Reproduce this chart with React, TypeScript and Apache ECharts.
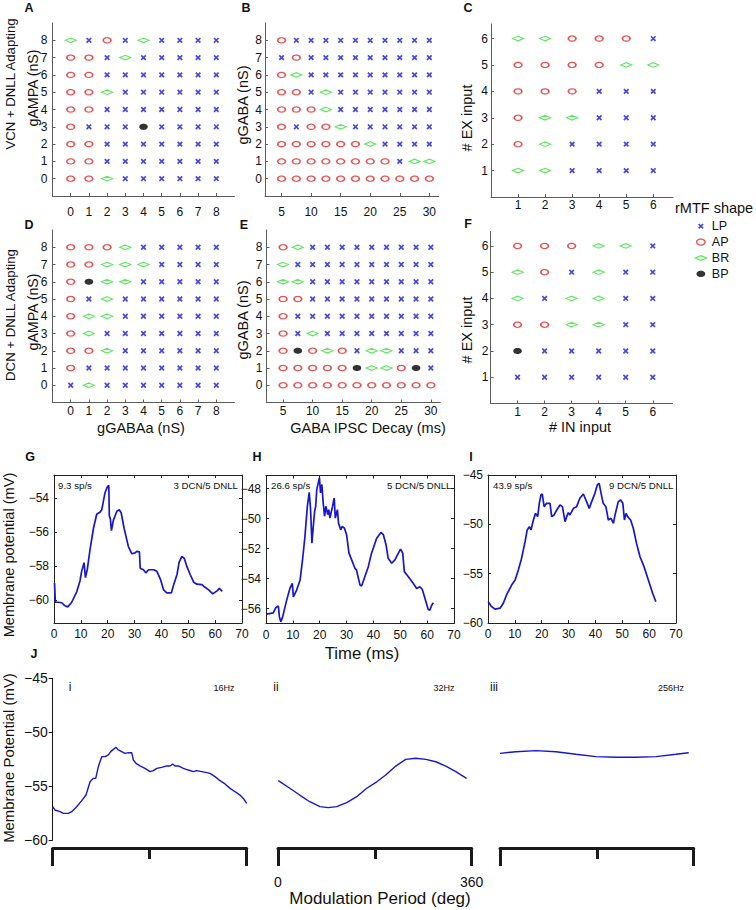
import React, { useEffect, useRef } from "react";
import * as echarts from "echarts";

const FONT = '"Liberation Sans", Arial, Helvetica, sans-serif';

// ---------- rMTF shape maps (rows listed from top y value down) ----------
// L = LP, A = AP, B = BR, P = BP
const gIntX = [0, 1, 2, 3, 4, 5, 6, 7, 8];
const gIntY = [8, 7, 6, 5, 4, 3, 2, 1, 0];
const decayX = [5, 7.5, 10, 12.5, 15, 17.5, 20, 22.5, 25, 27.5, 30];
const decayTicks = [5, 10, 15, 20, 25, 30];
const inputX = [1, 2, 3, 4, 5, 6];
const inputY = [6, 5, 4, 3, 2, 1];

const panelA = [
  "BLALBLLLL",
  "AALBLLLLL",
  "AALLLLLLL",
  "AABLLLLLL",
  "AALLLLLLL",
  "ALLLPLLLL",
  "AALLLLLLL",
  "AALLLLLLL",
  "AABLLLLLL",
];
const panelB = [
  "ALLLLLLLLLL",
  "LALLLLLLLLL",
  "ABLLLLLLLLL",
  "AALBLLLLLLL",
  "AAABLLLLLLL",
  "ALAABLLLLLL",
  "AAAAAABLLLL",
  "AAAAAAAALBB",
  "AAAAAAAAAAA",
];
const panelC = ["BBAAAL", "AAAABB", "AAALLL", "ABBLLL", "ABLLLL", "BBLLLL"];
const panelD = [
  "AAABLLLLL",
  "AABBBLLLL",
  "APBBLLLLL",
  "ALBLLLLLL",
  "ABBLLLLLL",
  "ABLLLLLLL",
  "AABLLLLLL",
  "ALLLLLLLL",
  "LBLLLLLLL",
];
const panelE = [
  "ABLLLLLLLLL",
  "BLLLLLLLLLL",
  "BBLLLLLLLLL",
  "AALLLLLLLLL",
  "ALLLLLLLLLL",
  "ALBLLLLLLLL",
  "APABALBBLLL",
  "AAAAAPBBAPL",
  "AAAAAAAAAAA",
];
const panelF = ["AAABBL", "BALBLL", "BLBBLL", "AABBLL", "PLLLLL", "LLLLLL"];

// ---------- membrane potential traces (time ms, mV) ----------
const timeTicks = [0, 10, 20, 30, 40, 50, 60, 70];
const traceG = [
  [0.2, -59.0], [0.5, -60.13], [1.6, -60.13], [2.9, -60.16], [4.1, -60.34], [5.1, -60.4],
  [6.6, -60.13], [8.5, -59.5], [9.7, -58.86], [10.3, -58.3], [11.2, -57.8], [11.7, -58.68],
  [12.4, -58.2], [13.4, -57.05], [14.7, -55.78], [15.9, -54.96], [17.2, -54.83], [17.8, -54.69],
  [19.0, -53.69], [19.9, -53.33], [20.4, -53.27], [20.6, -55.05], [21.0, -55.25], [21.4, -55.92],
  [22.1, -55.32], [23.4, -54.78], [24.3, -54.69], [25.0, -54.87], [26.1, -55.78], [27.7, -56.86],
  [29.0, -57.28], [30.2, -57.23], [30.8, -57.14], [31.8, -57.17], [32.1, -58.13], [33.3, -58.22],
  [34.2, -58.4], [35.2, -58.22], [37.1, -58.22], [38.3, -58.31], [39.6, -58.77], [40.8, -59.4],
  [42.0, -59.58], [43.7, -59.58], [44.5, -59.13], [45.8, -58.5], [46.6, -57.77], [47.6, -57.44],
  [48.5, -57.55], [49.5, -58.04], [50.7, -58.5], [52.0, -58.95], [53.2, -59.07], [55.1, -59.09],
  [56.0, -59.22], [57.6, -59.4], [59.1, -59.64], [60.7, -59.46], [61.6, -59.31], [62.6, -59.49],
];
const traceH = [
  [0.25, -56.38], [2.7, -56.29], [3.7, -55.93], [4.6, -55.84], [5.0, -56.56], [5.5, -56.89],
  [6.2, -56.56], [7.7, -55.44], [8.9, -54.66], [9.8, -54.32], [10.2, -55.22], [11.4, -54.77],
  [12.7, -54.1], [13.6, -52.76], [14.5, -51.2], [15.4, -49.18], [16.1, -48.25], [16.6, -49.41],
  [17.1, -51.64], [17.6, -50.53], [18.1, -49.52], [18.5, -49.18], [18.9, -48.07], [19.9, -47.28],
  [20.3, -48.29], [20.8, -47.73], [21.3, -48.96], [21.8, -49.85], [22.3, -49.18], [23.0, -49.74],
  [23.4, -49.41], [23.8, -49.97], [24.8, -49.18], [25.4, -48.63], [25.8, -49.97], [26.6, -49.41],
  [27.0, -50.3], [27.8, -50.75], [28.4, -50.53], [29.2, -50.64], [30.0, -51.08], [30.9, -52.31],
  [31.9, -52.76], [33.1, -53.32], [33.7, -53.43], [35.0, -54.44], [35.6, -54.5], [36.8, -53.88],
  [38.1, -53.21], [39.3, -52.31], [41.2, -51.31], [42.8, -50.93], [43.7, -51.08], [44.7, -51.75],
  [45.5, -52.65], [46.8, -52.98], [48.0, -52.76], [49.3, -52.31], [50.1, -52.04], [50.9, -52.31],
  [51.5, -53.54], [53.0, -53.88], [54.8, -54.32], [56.1, -54.66], [57.3, -54.55], [58.2, -54.73],
  [59.2, -55.33], [60.4, -56.07], [61.0, -56.11], [61.7, -55.78], [62.3, -55.62],
];
const traceI = [
  [0.1, -57.84], [1.2, -58.3], [2.6, -58.6], [4.5, -58.5], [5.7, -58.0], [6.9, -57.16],
  [8.8, -56.15], [10.1, -55.64], [11.3, -54.63], [12.5, -53.45], [13.8, -51.76], [14.6, -50.57],
  [15.4, -50.24], [16.0, -50.57], [16.9, -49.56], [17.7, -48.89], [18.5, -49.22], [19.1, -47.87],
  [19.7, -47.03], [20.2, -46.93], [20.9, -48.21], [21.8, -47.87], [23.1, -47.87], [23.7, -49.22],
  [24.6, -49.05], [25.6, -48.55], [26.8, -48.04], [27.7, -48.21], [28.7, -49.73], [29.3, -49.22],
  [29.9, -48.82], [30.5, -49.05], [31.8, -48.38], [33.0, -48.21], [34.2, -47.36], [35.5, -46.93],
  [36.7, -47.7], [37.7, -48.38], [38.6, -47.7], [39.8, -46.86], [40.7, -46.01], [41.4, -45.84],
  [42.1, -46.86], [42.9, -47.87], [43.9, -48.21], [44.8, -49.56], [45.8, -49.39], [46.7, -49.9],
  [47.3, -49.05], [48.5, -47.7], [49.4, -47.53], [50.2, -47.87], [50.8, -49.56], [51.4, -48.89],
  [52.0, -49.22], [53.1, -49.56], [54.1, -50.4], [55.3, -51.93], [56.6, -53.28], [58.1, -54.29],
  [59.7, -55.64], [61.3, -56.99], [62.5, -57.84],
];

// ---------- J: membrane potential vs modulation phase (deg, mV) ----------
const phaseTicksMid = [180];
const phaseTicksEnds = [0, 360];
const jTrace16 = [
  [0, -56.91], [4.3, -57.22], [13.6, -57.37], [19.8, -57.53], [29, -57.53], [35.3, -57.37],
  [44.5, -56.91], [53.8, -56.35], [61.8, -55.83], [69.3, -54.59], [75.4, -54.28], [79.8, -54.28],
  [84.7, -53.2], [90.9, -52.27], [97.1, -52.27], [103.3, -52.11], [107.6, -51.8], [112.6, -51.59],
  [117.5, -51.4], [121.8, -51.65], [128, -51.8], [134.2, -51.96], [140.4, -51.9], [146.6, -51.9],
  [149.7, -52.58], [154.6, -52.89], [162, -53.13], [171.3, -53.35], [180.6, -53.66], [186.8, -53.57],
  [193, -53.35], [202.2, -53.26], [211.5, -53.13], [217.7, -53.13], [222.6, -52.95], [227, -53.13],
  [233.1, -53.13], [242.4, -53.35], [251.7, -53.51], [261, -53.66], [267.2, -53.57], [276.4, -53.66],
  [285.7, -53.75], [291.9, -53.82], [301.2, -54.12], [310.5, -54.5], [319.8, -54.8], [329.1, -55.21],
  [338.3, -55.52], [347.6, -55.83], [353.8, -56.14], [360, -56.6],
];
const jTrace32 = [
  [0.6, -54.5], [22, -55.2], [40.3, -55.83], [59, -56.45], [78, -56.9], [93.5, -57.0],
  [109, -56.9], [127.7, -56.54], [146.3, -55.98], [164.9, -55.2], [183.5, -54.6], [200.2, -53.97],
  [218.8, -53.14], [237.4, -52.52], [256, -52.42], [274.7, -52.52], [293.3, -52.74], [311.9, -53.14],
  [330.5, -53.66], [350.4, -54.28],
];
const jTrace256 = [
  [0, -51.96], [29.7, -51.81], [66.9, -51.71], [104, -51.81], [141.2, -52.05], [178.4, -52.27],
  [215.6, -52.33], [252.8, -52.33], [290, -52.27], [327.2, -52.05], [350.8, -51.9],
];

// ---------- styling ----------
const BLUE = "#1a1ad8";
const RED = "#e52424";
const GREEN = "#36e036";
const TRACE = "#1616d2";
const AX_GRAY = "#5c5c5c";
const INK = "#141414";

function ellipseD(cx: number, cy: number, rx: number, ry: number, n = 32) {
  let s = "";
  for (let i = 0; i < n; i++) {
    const a = (i / n) * Math.PI * 2;
    s += (i === 0 ? "M" : "L") + (cx + rx * Math.cos(a)).toFixed(3) + "," + (cy + ry * Math.sin(a)).toFixed(3);
  }
  return s + "Z";
}
const SYM_ELLIPSE = "path://" + ellipseD(10, 6, 10, 6);
const SYM_X = "path://M0,0L10,10M10,0L0,10";
const LEG_X = "path://M0,0M12,8M3.8,1.8L8.2,6.2M8.2,1.8L3.8,6.2";
const LEG_E = "path://M0,0M12,8" + ellipseD(6, 4, 4.2, 3);
const LEG_D = "path://M0,0M12,8M0.5,4L6,1.7L11.5,4L6,6.3Z";
const LEG_P = "path://M0,0M12,8" + ellipseD(6, 4, 4.4, 3.2);

const CATS: any[] = [
  { code: "L", name: "LP", symbol: SYM_X, symbolSize: [4.6, 4.6], itemStyle: { color: "transparent", borderColor: BLUE, borderWidth: 1.7 } },
  { code: "A", name: "AP", symbol: SYM_ELLIPSE, symbolSize: [7.6, 5.2], itemStyle: { color: "transparent", borderColor: RED, borderWidth: 1.4 } },
  { code: "B", name: "BR", symbol: "diamond", symbolSize: [11, 4.6], itemStyle: { color: "transparent", borderColor: GREEN, borderWidth: 1.3 } },
  { code: "P", name: "BP", symbol: SYM_ELLIPSE, symbolSize: [8.6, 6.2], itemStyle: { color: "#000", borderWidth: 0 } },
];

function pointsFor(rows: string[], xs: number[], ys: number[], code: string) {
  const out: number[][] = [];
  rows.forEach((row, r) => {
    for (let c = 0; c < row.length; c++) if (row[c] === code) out.push([xs[c], ys[r]]);
  });
  return out;
}

const fmtMinus = (v: number) => (v < 0 ? "\u2212" + Math.abs(v) : String(v));

function buildOption() {
  const scatterPanels = [
    { rows: panelA, xs: gIntX, ys: gIntY, xT: gIntX, yT: gIntY, grid: { left: 52.5, top: 23, width: 182, height: 173 }, x: [-1, 9], y: [-1, 9], xm: 10, ym: 5 },
    { rows: panelB, xs: decayX, ys: gIntY, xT: decayTicks, yT: gIntY, grid: { left: 265, top: 23, width: 173.8, height: 173 }, x: [2.2, 31.6], y: [-1, 9], xm: 10, ym: 3 },
    { rows: panelC, xs: inputX, ys: inputY, xT: inputX, yT: inputY, grid: { left: 491, top: 24, width: 182, height: 173 }, x: [0, 6.73], y: [0, 6.55], xm: 2, ym: 3 },
    { rows: panelD, xs: gIntX, ys: gIntY, xT: gIntX, yT: gIntY, grid: { left: 52.5, top: 230, width: 182, height: 172.5 }, x: [-1, 9], y: [-1, 9], xm: 2, ym: 5 },
    { rows: panelE, xs: decayX, ys: gIntY, xT: decayTicks, yT: gIntY, grid: { left: 266.5, top: 230, width: 173.8, height: 172.5 }, x: [2.2, 31.6], y: [-1, 9], xm: 2, ym: 4 },
    { rows: panelF, xs: inputX, ys: inputY, xT: inputX, yT: inputY, grid: { left: 490.5, top: 231.5, width: 182, height: 172 }, x: [0, 6.73], y: [0, 6.55], xm: 2, ym: 2 },
  ];
  const tracePanels = [
    { data: traceG, grid: { left: 54, top: 475, width: 188, height: 148 }, y: [-61.35, -52.65], yT: [-60, -58, -56, -54] },
    { data: traceH, grid: { left: 266, top: 475.5, width: 188, height: 148 }, y: [-57.0, -47.13], yT: [-56, -54, -52, -50, -48] },
    { data: traceI, grid: { left: 488, top: 475, width: 188, height: 148 }, y: [-60, -45], yT: [-60, -55, -50, -45] },
  ];
  const jPanels = [
    { data: jTrace16, grid: { left: 52.7, top: 678.3, width: 194, height: 161.7 }, showY: true, showLab: false },
    { data: jTrace32, grid: { left: 278, top: 678.3, width: 193.7, height: 161.7 }, showY: false, showLab: true },
    { data: jTrace256, grid: { left: 500, top: 678.3, width: 193.7, height: 161.7 }, showY: false, showLab: false },
  ];

  const grid: any[] = [];
  const xAxis: any[] = [];
  const yAxis: any[] = [];
  const series: any[] = [];

  const lab = (size: number, margin: number, extra: any = {}) => ({
    fontSize: size, fontFamily: FONT, color: "#111", margin, ...extra,
  });

  // scatter panels
  scatterPanels.forEach((p, i) => {
    grid.push({ ...p.grid, containLabel: false });
    xAxis.push({
      gridIndex: i, type: "value", min: p.x[0], max: p.x[1], position: "bottom",
      axisLine: { show: true, onZero: false, lineStyle: { color: AX_GRAY, width: 1 } },
      axisTick: { show: true, inside: true, length: 3, customValues: p.xT, lineStyle: { color: AX_GRAY } },
      axisLabel: lab(12, p.xm, { customValues: p.xT }),
      splitLine: { show: false },
    });
    yAxis.push({
      gridIndex: i, type: "value", min: p.y[0], max: p.y[1], position: "left",
      axisLine: { show: true, onZero: false, lineStyle: { color: AX_GRAY, width: 1 } },
      axisTick: { show: true, inside: true, length: 3, customValues: p.yT, lineStyle: { color: AX_GRAY } },
      axisLabel: lab(12, p.ym, { customValues: p.yT }),
      splitLine: { show: false },
    });
    CATS.forEach((c) => {
      series.push({
        type: "scatter", name: c.name, xAxisIndex: i, yAxisIndex: i,
        symbol: c.symbol, symbolSize: c.symbolSize, itemStyle: c.itemStyle,
        data: pointsFor(p.rows, p.xs, p.ys, c.code),
        silent: true, emphasis: { disabled: true },
      });
    });
  });

  // G, H, I boxed trace panels
  const boxLine = { color: "#222", width: 1 };
  tracePanels.forEach((p, k) => {
    const gi = 6 + k;
    grid.push({ ...p.grid, containLabel: false });
    xAxis[6 + k] = {
      gridIndex: gi, type: "value", min: 0, max: 70, position: "bottom",
      axisLine: { show: true, onZero: false, lineStyle: boxLine },
      axisTick: { show: true, inside: true, length: 3, customValues: timeTicks, lineStyle: boxLine },
      axisLabel: lab(12, 5, { customValues: timeTicks }),
      splitLine: { show: false },
    };
    xAxis[9 + k] = {
      gridIndex: gi, type: "value", min: 0, max: 70, position: "top",
      axisLine: { show: true, onZero: false, lineStyle: boxLine },
      axisTick: { show: true, inside: true, length: 3, customValues: timeTicks, lineStyle: boxLine },
      axisLabel: { show: false }, splitLine: { show: false },
    };
    yAxis[6 + k] = {
      gridIndex: gi, type: "value", min: p.y[0], max: p.y[1], position: "left",
      axisLine: { show: true, onZero: false, lineStyle: boxLine },
      axisTick: { show: true, inside: true, length: 3, customValues: p.yT, lineStyle: boxLine },
      axisLabel: lab(12, 5, { customValues: p.yT, formatter: fmtMinus }),
      splitLine: { show: false },
    };
    yAxis[9 + k] = {
      gridIndex: gi, type: "value", min: p.y[0], max: p.y[1], position: "right",
      axisLine: { show: true, onZero: false, lineStyle: boxLine },
      axisTick: { show: true, inside: true, length: 3, customValues: p.yT, lineStyle: boxLine },
      axisLabel: { show: false }, splitLine: { show: false },
    };
    series.push({
      type: "line", name: "trace" + k, xAxisIndex: 6 + k, yAxisIndex: 6 + k,
      data: p.data, showSymbol: false, symbol: "none",
      lineStyle: { color: TRACE, width: 1.7 }, silent: true, emphasis: { disabled: true },
    });
  });

  // J panels
  const bracket = { color: "#1a1a1a", width: 3 };
  jPanels.forEach((p, k) => {
    const gi = 9 + k;
    grid.push({ ...p.grid, containLabel: false });
    xAxis[12 + k] = {
      gridIndex: gi, type: "value", min: 0, max: 360, position: "bottom", offset: 8,
      axisLine: { show: true, onZero: false, lineStyle: bracket },
      axisTick: { show: true, inside: false, length: 11, customValues: phaseTicksMid, lineStyle: bracket },
      axisLabel: { show: false }, splitLine: { show: false },
    };
    xAxis[15 + k] = {
      gridIndex: gi, type: "value", min: 0, max: 360, position: "bottom", offset: 8,
      axisLine: { show: false, onZero: false },
      axisTick: { show: true, inside: false, length: 18, customValues: phaseTicksEnds, lineStyle: bracket },
      axisLabel: p.showLab ? lab(14, 27, { customValues: phaseTicksEnds }) : { show: false },
      splitLine: { show: false },
    };
    yAxis[12 + k] = {
      gridIndex: gi, type: "value", min: -60, max: -45, interval: 5, position: "left",
      show: p.showY,
      axisLine: { show: true, onZero: false, lineStyle: { color: INK, width: 1 } },
      axisTick: { show: true, inside: false, length: 4, lineStyle: { color: INK } },
      axisLabel: lab(14, 5, { formatter: fmtMinus }),
      splitLine: { show: false },
    };
    series.push({
      type: "line", name: "phase" + k, xAxisIndex: 12 + k, yAxisIndex: 12 + k,
      data: p.data, showSymbol: false, symbol: "none",
      lineStyle: { color: TRACE, width: 1.4 }, silent: true, emphasis: { disabled: true },
    });
  });

  const T = (text: string, x: number, y: number, size: number, o: any = {}) => ({
    type: "text", x, y, rotation: o.rot ? Math.PI / 2 : 0, silent: true,
    style: {
      text, fill: o.color || "#111",
      font: `${o.bold ? "bold " : ""}${size}px ${FONT}`,
      align: o.align || "center", verticalAlign: "middle",
    },
  });

  const graphic = [
    // panel letters
    T("A", 29, 8, 12.5, { bold: true }),
    T("B", 246, 8, 12.5, { bold: true }),
    T("C", 468, 8, 12.5, { bold: true }),
    T("D", 29, 225, 12.5, { bold: true }),
    T("E", 244, 225, 12.5, { bold: true }),
    T("F", 468, 224, 12.5, { bold: true }),
    T("G", 30, 457, 12.5, { bold: true }),
    T("H", 257, 457, 12.5, { bold: true }),
    T("I", 471, 457, 12.5, { bold: true }),
    T("J", 34, 654, 12.5, { bold: true }),
    // y titles
    T("VCN + DNLL Adapting", 10, 84, 13.2, { rot: true }),
    T("gAMPA (nS)", 33, 88, 14.2, { rot: true }),
    T("gGABA (nS)", 243, 105, 14.5, { rot: true }),
    T("# EX input", 467, 118, 14.5, { rot: true }),
    T("DCN + DNLL Adapting", 10, 315, 13.2, { rot: true }),
    T("gAMPA (nS)", 33, 312, 14.2, { rot: true }),
    T("gGABA (nS)", 243, 320, 14.5, { rot: true }),
    T("# EX input", 467, 330, 14.5, { rot: true }),
    T("Membrane potential (mV)", 9, 555, 14.6, { rot: true }),
    T("Membrane Potential (mV)", 9, 758, 14.9, { rot: true }),
    // x titles
    T("gGABAa (nS)", 141, 428, 14.5),
    T("GABA IPSC Decay (ms)", 368, 428, 14.5),
    T("# IN input", 580, 427, 14.5),
    T("Time (ms)", 362, 653, 16.7),
    T("Modulation Period (deg)", 380, 898, 17),
    // legend title
    T("rMTF shape", 675, 208, 14.5, { align: "left" }),
    // trace annotations
    T("9.3 sp/s", 58, 485, 9.7, { align: "left" }),
    T("3 DCN/5 DNLL", 238, 485, 9.7, { align: "right" }),
    T("26.6 sp/s", 271, 485, 9.7, { align: "left" }),
    T("5 DCN/5 DNLL", 451.5, 485, 9.7, { align: "right" }),
    T("43.9 sp/s", 493, 485, 9.7, { align: "left" }),
    T("9 DCN/5 DNLL", 673.5, 485, 9.7, { align: "right" }),
    // J annotations
    T("i", 70, 687, 12),
    T("16Hz", 224, 688, 9),
    T("ii", 276, 687, 12),
    T("32Hz", 444, 688, 9),
    T("iii", 494, 687, 12),
    T("256Hz", 671, 688, 9),
  ];

  return {
    animation: false,
    backgroundColor: "#fff",
    textStyle: { fontFamily: FONT },
    grid,
    xAxis,
    yAxis,
    legend: {
      orient: "vertical", left: 694, top: 219.7, padding: 0,
      itemWidth: 12, itemHeight: 8, itemGap: 2.9, selectedMode: false,
      textStyle: { fontFamily: FONT, fontSize: 12.5, color: "#111" },
      data: [
        { name: "LP", icon: LEG_X, itemStyle: { color: "transparent", borderColor: BLUE, borderWidth: 1.7 } },
        { name: "AP", icon: LEG_E, itemStyle: { color: "transparent", borderColor: RED, borderWidth: 1.4 } },
        { name: "BR", icon: LEG_D, itemStyle: { color: "transparent", borderColor: GREEN, borderWidth: 1.3 } },
        { name: "BP", icon: LEG_P, itemStyle: { color: "#000", borderColor: "#000", borderWidth: 0 } },
      ],
    },
    graphic,
    series,
  };
}

export default function App() {
  const ref = useRef<HTMLDivElement>(null);
  useEffect(() => {
    if (!ref.current) return;
    const chart = echarts.init(ref.current, null, { renderer: "svg", width: 756, height: 910 });
    chart.setOption(buildOption() as any);
    return () => chart.dispose();
  }, []);
  return (
    <div
      ref={ref}
      style={{ position: "fixed", left: 0, top: 0, width: 756, height: 910, background: "#fff" }}
    />
  );
}
